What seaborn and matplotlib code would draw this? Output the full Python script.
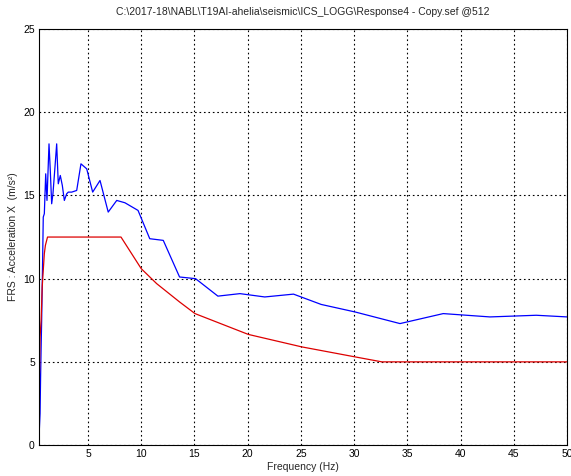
import matplotlib
matplotlib.use("Agg")
import matplotlib.pyplot as plt
import seaborn as sns
import pandas as pd

title = r"C:\2017-18\NABL\T19AI-ahelia\seismic\ICS_LOGG\Response4 - Copy.sef @512"
xlabel = "Frequency (Hz)"
ylabel = "FRS : Acceleration X  (m/s²)"

resp_freq = [0.43, 0.5, 0.55, 0.6, 0.65, 0.7, 0.75, 0.8, 0.9, 1.03, 1.15, 1.34, 1.46, 1.59,
             1.71, 1.9, 2.06, 2.21, 2.4, 2.59, 2.78, 3.0, 3.15, 3.47, 3.94, 4.34, 4.88,
             5.44, 6.13, 6.9, 7.7, 8.47, 9.7, 10.8, 12.07, 13.6, 15.1, 17.2, 19.27, 21.6,
             24.3, 26.9, 30.07, 34.3, 38.36, 42.75, 47.1, 50.0]
resp_acc = [0.9, 1.9, 4.1, 5.9, 7.5, 9.5, 11.5, 13.7, 13.9, 16.3, 14.7, 18.1, 16.5, 14.5,
            15.1, 16.7, 18.1, 15.7, 16.2, 15.6, 14.7, 15.1, 15.2, 15.2, 15.3, 16.9, 16.6,
            15.2, 15.9, 14.0, 14.7, 14.56, 14.1, 12.4, 12.3, 10.1, 10.0, 8.95, 9.1, 8.9,
            9.07, 8.45, 8.0, 7.3, 7.9, 7.7, 7.8, 7.7]

req_freq = [0.4, 0.45, 0.5, 0.6, 0.7, 0.8, 0.9, 1.0, 1.2, 8.1, 10.0, 11.45, 13.6,
            15.05, 20.05, 25.07, 30.07, 32.6, 50.0]
req_acc = [3.5, 4.5, 6.5, 7.5, 9.5, 10.5, 11.5, 12.0, 12.5, 12.5, 10.6, 9.7, 8.6,
           7.9, 6.65, 5.9, 5.3, 5.0, 5.0]

xticks = [5, 10, 15, 20, 25, 30, 35, 40, 45, 50]
yticks = [0, 5, 10, 15, 20, 25]

sns.set_style("white")
plt.rcParams['font.family'] = ['Liberation Sans', 'DejaVu Sans']

fig = plt.figure(figsize=(5.71, 4.76), dpi=100)
ax = fig.add_axes([0.0683, 0.065, 0.925, 0.874])

df_resp = pd.DataFrame({"f": resp_freq, "a": resp_acc})
df_req = pd.DataFrame({"f": req_freq, "a": req_acc})
sns.lineplot(data=df_resp, x="f", y="a", ax=ax, color="#0000ff", linewidth=0.9,
             sort=False, estimator=None)
sns.lineplot(data=df_req, x="f", y="a", ax=ax, color="#dd0000", linewidth=0.9,
             sort=False, estimator=None)

ax.set_xlim(0.4, 50)
ax.set_ylim(0, 25)
ax.set_xticks(xticks)
ax.set_yticks(yticks)
ax.grid(True, color="black", linestyle=(0, (1.5, 2.5)), linewidth=0.8)
for s in ax.spines.values():
    s.set_color("black")
    s.set_linewidth(0.8)
ax.tick_params(direction="in", length=3, labelsize=7.5, colors="black", pad=3)
ax.set_xlabel(xlabel, fontsize=7.5, labelpad=2)
ax.set_ylabel(ylabel, fontsize=7.5, labelpad=4)
ax.set_title(title, fontsize=7.5, pad=10)

fig.savefig("out.png", dpi=100)
